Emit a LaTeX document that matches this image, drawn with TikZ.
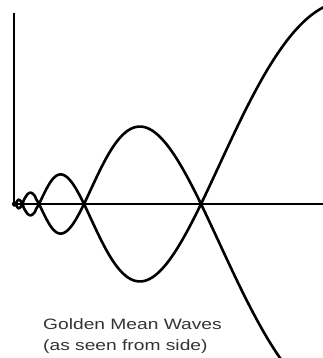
\documentclass[tikz,border=0pt]{standalone}
\usepackage{fontspec}
\setmainfont{Liberation Sans}
\newfontfamily\wavefont[FakeStretch=1.28]{Liberation Sans}
\usepackage{tikz}
\usetikzlibrary{positioning}
\tikzset{
    axis/.style={line width=2.6pt, line cap=rect},
    wave/.style={line width=2.6pt, line join=round},
    caption/.style={align=left, inner sep=0pt, text=black!80, font=\wavefont\fontsize{15}{21}\selectfont}
}

\begin{document}
\begin{tikzpicture}[x=1pt, y=-1pt]
    \useasboundingbox (0,0) rectangle (323,358);
    \clip (0,0) rectangle (323,358);

    % Axes
    \coordinate (top) at (14,14);
    \coordinate (origin) at (14,204);
    \coordinate (right) at (325,204);
    \draw[axis] (top) -- (origin) -- (right);

    % Waves: nodes spaced by phi^2, amplitude growing linearly
    \draw[wave] plot[domain=13:330, samples=500, variable=\x]
        ({\x}, {204 - 0.632*(\x-11.7)*sin(180*ln((\x-11.7)/189.3)/ln(2.618))});
    \draw[wave] plot[domain=13:330, samples=500, variable=\x]
        ({\x}, {204 + 0.632*(\x-11.7)*sin(180*ln((\x-11.7)/189.3)/ln(2.618))});

    % Caption
    \node[caption, anchor=north west] (title) at (43,318) {Golden Mean Waves\\(as seen from side)};
\end{tikzpicture}
\end{document}
